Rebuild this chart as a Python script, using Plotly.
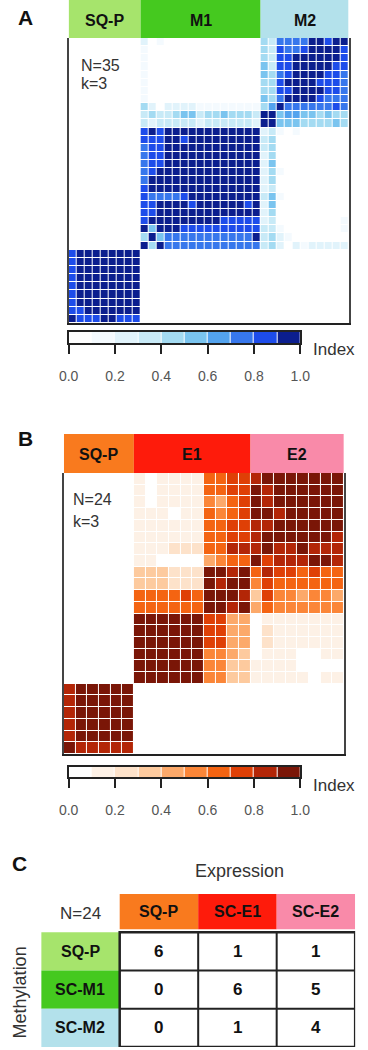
import plotly.graph_objects as go

FONT = "Liberation Sans, Arial, sans-serif"
W, H = 368, 1050


def px_x(p):
    return p / W


def px_y(p):
    return 1 - p / H


# ---------------- Panel A: methylation consensus (N=35, k=3) ----------------
a_groups = ["SQ-P", "M1", "M2"]
a_sizes = [9, 15, 11]
a_header_colors = ["#a6e46c", "#45c91f", "#b3e1eb"]
a_colors = ["#ffffff", "#f4fafe", "#e1f3fb", "#c8eaf7", "#a4dbf2",
            "#7ac4ef", "#53a3ee", "#3777ec", "#1d4cea", "#0b1e8e"]
# consensus index bins (0-9 -> 0.0-0.1 ... 0.9-1.0), rows listed top to bottom
a_rows = [
    "000000000" "201000000000000" "43777799899",
    "000000000" "100000000000000" "43877899998",
    "000000000" "100000000000000" "43889999998",
    "000000000" "100000000000000" "53889999988",
    "000000000" "100000000000000" "54789999887",
    "000000000" "100000000000000" "44899998887",
    "000000000" "100000000000000" "44889999887",
    "000000000" "100000000000000" "54799998777",
    "000000000" "420222211111111" "46977777787",
    "000000000" "343345534454443" "99566554544",
    "000000000" "323333323333332" "99555444454",
    "000000000" "898999999999999" "23101000000",
    "000000000" "888998999999999" "34000000000",
    "000000000" "788999999999999" "34000000000",
    "000000000" "788999999999999" "24000000000",
    "000000000" "788999999999999" "25000000000",
    "000000000" "789999999999999" "24100000000",
    "000000000" "799999999999999" "24000000000",
    "000000000" "899999999999999" "23000000000",
    "000000000" "877778999999999" "35100000000",
    "000000000" "889999899999989" "25000000000",
    "000000000" "889999999999999" "24000000000",
    "000000000" "899999999988888" "23000000001",
    "000000000" "959998888888888" "33100000001",
    "000000000" "495777777777779" "34210000000",
    "000000000" "949777777777777" "34202122222",
    "899999999" "000000000000000" "00000000000",
    "899999999" "000000000000000" "00000000000",
    "899999999" "000000000000000" "00000000000",
    "899999999" "000000000000000" "00000000000",
    "899999999" "000000000000000" "00000000000",
    "899999999" "000000000000000" "00000000000",
    "899999999" "000000000000000" "00000000000",
    "889999999" "000000000000000" "00000000000",
    "988899888" "000000000000000" "00000000000",
]

# ---------------- Panel B: expression consensus (N=24, k=3) ----------------
b_groups = ["SQ-P", "E1", "E2"]
b_sizes = [6, 10, 8]
b_header_colors = ["#f97a1e", "#fe1b0b", "#f98aa9"]
b_colors = ["#ffffff", "#fdf1e6", "#fde2ca", "#fdca9e", "#fca96a",
            "#fb8638", "#f46412", "#df4006", "#b32607", "#7a1607"]
b_rows = [
    "000000" "101111" "6677" "89999999",
    "000000" "101111" "6677" "98999999",
    "000000" "101111" "5467" "98999999",
    "000000" "111011" "6567" "99899999",
    "000000" "111111" "6677" "88999999",
    "000000" "111111" "6677" "89999998",
    "000000" "111222" "6688" "89889888",
    "000000" "110000" "4566" "97888998",
    "000000" "333222" "9989" "68776766",
    "000000" "333222" "9899" "57666666",
    "000000" "666676" "9998" "37554554",
    "000000" "666666" "9989" "46555555",
    "000000" "999999" "7744" "01111111",
    "000000" "999999" "7744" "02111111",
    "000000" "999999" "7744" "02111111",
    "000000" "999999" "5543" "01110011",
    "000000" "999999" "5533" "11110000",
    "000000" "999999" "5533" "11111011",
    "899999" "000000" "0000" "00000000",
    "899999" "000000" "0000" "00000000",
    "899999" "000000" "0000" "00000000",
    "899999" "000000" "0000" "00000000",
    "899999" "000000" "0000" "00000000",
    "988888" "000000" "0000" "00000000",
]

# legend bar
index_bins = [0.05, 0.15, 0.25, 0.35, 0.45, 0.55, 0.65, 0.75, 0.85, 0.95]
index_ticks = [0.0, 0.2, 0.4, 0.6, 0.8, 1.0]

# ---------------- Panel C: cross table ----------------
c_expr = ["SQ-P", "SC-E1", "SC-E2"]
c_expr_colors = ["#f97a1e", "#fe1b0b", "#f98aa9"]
c_meth = ["SQ-P", "SC-M1", "SC-M2"]
c_meth_colors = ["#a6e46c", "#45c91f", "#b3e1eb"]
c_counts = [[6, 1, 1],
            [0, 6, 5],
            [0, 1, 4]]


def discrete(colors):
    n = len(colors)
    cs = []
    for i, c in enumerate(colors):
        cs.append([i / n, c])
        cs.append([(i + 1) / n, c])
    return cs


def to_z(rows):
    z = [[(int(ch) + 0.5) / 10 for ch in r] for r in rows]
    return z[::-1]  # first sample at the bottom


fig = go.Figure()

n_a = sum(a_sizes)
n_b = sum(b_sizes)

fig.add_trace(go.Heatmap(z=to_z(a_rows), x=list(range(n_a)), y=list(range(n_a)),
                         colorscale=discrete(a_colors), zmin=0, zmax=1,
                         showscale=False, xgap=1, ygap=1, hoverinfo="skip",
                         xaxis="x", yaxis="y"))
fig.add_trace(go.Heatmap(z=to_z(b_rows), x=list(range(n_b)), y=list(range(n_b)),
                         colorscale=discrete(b_colors), zmin=0, zmax=1,
                         showscale=False, xgap=1, ygap=1, hoverinfo="skip",
                         xaxis="x2", yaxis="y2"))
fig.add_trace(go.Heatmap(z=[index_bins], x=index_bins, y=[0],
                         colorscale=discrete(a_colors), zmin=0, zmax=1,
                         showscale=False, xgap=1, hoverinfo="skip",
                         xaxis="x3", yaxis="y3"))
fig.add_trace(go.Heatmap(z=[index_bins], x=index_bins, y=[0],
                         colorscale=discrete(b_colors), zmin=0, zmax=1,
                         showscale=False, xgap=1, hoverinfo="skip",
                         xaxis="x4", yaxis="y4"))

hidden = dict(showgrid=False, zeroline=False, showticklabels=False, ticks="")

# geometry (pixels)
A_X = (62, 358); A_Y = (38, 323); A_HEAD = (0, 38)
B_X = (57, 353); B_Y = (473, 754); B_HEAD = (434, 473)
BAR_X = (62, 307)
A_BAR = (332, 343)
B_BAR = (767, 777)
TBL_X = (33, 365); TBL_Y = (894, 1047)

layout = dict(
    width=W, height=H, margin=dict(l=0, r=0, t=0, b=0, pad=0),
    paper_bgcolor="white", plot_bgcolor="white",
    font=dict(family=FONT, color="#222"),
    showlegend=False,
)

layout["xaxis"] = dict(domain=[px_x(A_X[0]), px_x(A_X[1])], range=[-0.5, n_a - 0.5],
                       anchor="y", showline=True, linecolor="#222", linewidth=2,
                       mirror=False, **hidden)
layout["yaxis"] = dict(domain=[px_y(A_Y[1]), px_y(A_Y[0])], range=[-0.5, n_a - 0.5],
                       anchor="x", showline=True, linecolor="#444", linewidth=2,
                       mirror=True, **hidden)
layout["xaxis2"] = dict(domain=[px_x(B_X[0]), px_x(B_X[1])], range=[-0.5, n_b - 0.5],
                        anchor="y2", showline=True, linecolor="#222", linewidth=2,
                        mirror=False, **hidden)
layout["yaxis2"] = dict(domain=[px_y(B_Y[1]), px_y(B_Y[0])], range=[-0.5, n_b - 0.5],
                        anchor="x2", showline=True, linecolor="#444", linewidth=2,
                        mirror=True, **hidden)

for xa, ya, bar in (("xaxis3", "yaxis3", A_BAR), ("xaxis4", "yaxis4", B_BAR)):
    xn = xa.replace("axis", "")
    yn = ya.replace("axis", "")
    layout[xa] = dict(domain=[px_x(BAR_X[0]), px_x(BAR_X[1])], range=[0, 1], anchor=yn,
                      showgrid=False, zeroline=False, showline=True, mirror=True,
                      linecolor="#222", linewidth=1.5,
                      tickmode="array", tickvals=index_ticks,
                      ticktext=[f"{v:.1f}" for v in index_ticks],
                      ticks="outside", ticklen=9, tickwidth=1.5, tickcolor="#222",
                      ticklabelstandoff=10,
                      tickfont=dict(size=14, color="#555", family=FONT))
    layout[ya] = dict(domain=[px_y(bar[1]), px_y(bar[0])], range=[-0.5, 0.5], anchor=xn,
                      showline=True, mirror=True, linecolor="#222", linewidth=1.5,
                      **hidden)

layout["xaxis5"] = dict(domain=[px_x(TBL_X[0]), px_x(TBL_X[1])], range=[-1, 3],
                        anchor="y5", visible=False)
layout["yaxis5"] = dict(domain=[px_y(TBL_Y[1]), px_y(TBL_Y[0])], range=[3, -1],
                        anchor="x5", visible=False)

shapes = []
annotations = []


def ann(text, x, y, xref="paper", yref="paper", size=16, color="#111",
        xanchor="center", yanchor="middle", angle=0):
    annotations.append(dict(text=text, x=x, y=y, xref=xref, yref=yref,
                            xanchor=xanchor, yanchor=yanchor, showarrow=False,
                            textangle=angle,
                            font=dict(size=size, color=color, family=FONT)))


# panel letters
for letter, (lx, ly) in zip("ABC", [(16, 17), (16, 438), (10, 863)]):
    ann(f"<b>{letter}</b>", px_x(lx), px_y(ly), size=21)

# cluster headers for heatmaps
for groups, sizes, colors, xref, head in (
        (a_groups, a_sizes, a_header_colors, "x", A_HEAD),
        (b_groups, b_sizes, b_header_colors, "x2", B_HEAD)):
    start = 0
    for g, s, c in zip(groups, sizes, colors):
        shapes.append(dict(type="rect", xref=xref, yref="paper",
                           x0=start - 0.5, x1=start + s - 0.5,
                           y0=px_y(head[1]), y1=px_y(head[0]),
                           fillcolor=c, line=dict(width=0), layer="above"))
        ann(f"<b>{g}</b>", start + s / 2 - 0.5, px_y((head[0] + head[1]) / 2 + 1),
            xref=xref, size=16)
        start += s

# N / k labels
ann(f"N={n_a}", px_x(73), px_y(65), size=16, color="#333", xanchor="left")
ann(f"k={len(a_groups)}", px_x(73), px_y(84), size=16, color="#333", xanchor="left")
ann(f"N={n_b}", px_x(65), px_y(499), size=16, color="#333", xanchor="left")
ann(f"k={len(b_groups)}", px_x(65), px_y(521), size=16, color="#333", xanchor="left")

# "Index" legend titles
for iy in (350, 785):
    ann("Index", px_x(318), px_y(iy), size=17, color="#333", xanchor="left")

# ---------------- table ----------------
for j, (name, col) in enumerate(zip(c_expr, c_expr_colors)):
    shapes.append(dict(type="rect", xref="x5", yref="y5", x0=j, x1=j + 1, y0=-1, y1=-0.08,
                       fillcolor=col, line=dict(width=0)))
    ann(f"<b>{name}</b>", j + 0.5, -0.54, xref="x5", yref="y5", size=16)
for i, (name, col) in enumerate(zip(c_meth, c_meth_colors)):
    shapes.append(dict(type="rect", xref="x5", yref="y5", x0=-1, x1=0, y0=i, y1=i + 1,
                       fillcolor=col, line=dict(width=0)))
    ann(f"<b>{name}</b>", -0.5, i + 0.5, xref="x5", yref="y5", size=16)
    for j, v in enumerate(c_counts[i]):
        ann(f"<b>{v}</b>", j + 0.5, i + 0.5, xref="x5", yref="y5", size=17)
nr, nc = len(c_meth), len(c_expr)
for j in range(1, nc):
    shapes.append(dict(type="line", xref="x5", yref="y5", x0=j, x1=j, y0=0, y1=nr,
                       line=dict(color="#222", width=2)))
for i in range(1, nr):
    shapes.append(dict(type="line", xref="x5", yref="y5", x0=0, x1=nc, y0=i, y1=i,
                       line=dict(color="#222", width=2)))
shapes.append(dict(type="rect", xref="x5", yref="y5", x0=0, x1=nc, y0=0, y1=nr,
                   line=dict(color="#222", width=2.5)))

ann(f"N={sum(sum(r) for r in c_counts)}", -0.5, -0.5, xref="x5", yref="y5",
    size=17, color="#333")
ann("Expression", px_x(243), px_y(871), size=18, color="#333")
ann("Methylation", px_x(11), px_y(992), size=18, color="#333", angle=-90)

layout["shapes"] = shapes
layout["annotations"] = annotations
fig.update_layout(**layout)

fig.write_html("out.html",
               config={"displayModeBar": False},
               post_script="document.body.style.margin='0';"
                           "document.body.style.overflow='hidden';")
